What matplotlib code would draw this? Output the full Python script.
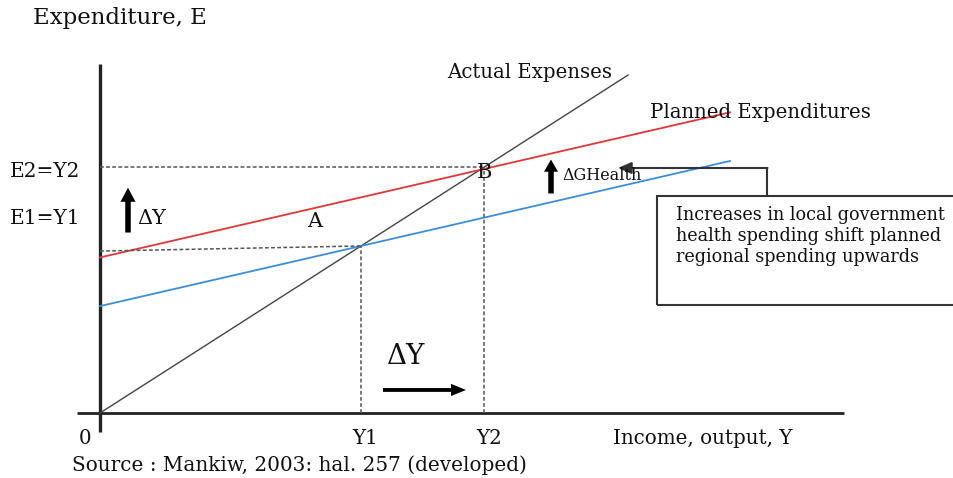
"""Keynesian cross: local government health spending shifts planned expenditure up."""
import matplotlib

matplotlib.use("Agg")
import matplotlib.pyplot as plt
from matplotlib.patches import Rectangle, FancyArrow

plt.rcParams["font.family"] = ["DejaVu Serif"]

W, H = 954, 478
INK, RED, BLUE, GREY = "#222222", "#e0383a", "#3d8ed6", "#555555"

# model (units: Y along x, E along y; actual expenses is E = Y)
MPC = 0.36                 # slope of planned expenditure
A_OLD, A_NEW = 16.7, 24.3  # autonomous spending before / after ΔG health
Y1, Y2 = 26.1, 38.4        # equilibria
Y_ACTUAL_END = 52.8
Y_PLAN_END = 63.0
E1_LEFT = 25.3             # left end of the E1 guide (drawn slightly off level)

# pixel frame of the picture: origin at (100, 413), 10 px per Y unit, 6.4 px per E unit
OX, OY, SX, SY = 100, 413, 10.0, 6.4


def px(x, y):
    """pixel position -> axes fraction (for labels only)"""
    return x / W, 1 - y / H


fig = plt.figure(figsize=(W / 100, H / 100), dpi=100)
ax = fig.add_axes([0, 0, 1, 1])
ax.set_xlim(-OX / SX, (W - OX) / SX)
ax.set_ylim((OY - H) / SY, OY / SY)
ax.axis("off")

# axes of the diagram
ax.plot([0, 0], [-3.0, 54.5], color=INK, lw=2.4, solid_capstyle="butt")
ax.plot([-2.3, 74.4], [0, 0], color=INK, lw=2.0, solid_capstyle="butt")

# actual expenses (45 degree line)
ax.plot([0, Y_ACTUAL_END], [0, Y_ACTUAL_END], color="#444444", lw=1.0)
# planned expenditure before / after
ax.plot([0, Y_PLAN_END], [A_NEW, A_NEW + MPC * Y_PLAN_END], color=RED, lw=1.3)
ax.plot([0, Y_PLAN_END], [A_OLD, A_OLD + MPC * Y_PLAN_END], color=BLUE, lw=1.3)

# guides
dash = dict(color=GREY, lw=1.1, ls=(0, (2.5, 1.5)))
ax.plot([0, Y1], [E1_LEFT, Y1], **dash)
ax.plot([0, Y2], [Y2, Y2], **dash)
ax.plot([Y1, Y1], [0, Y1], **dash)
ax.plot([Y2, Y2], [0, Y2], **dash)

# thick arrows
ax.add_patch(FancyArrow(2.8, 28.2, 0, 7.0, width=0.55, head_width=1.5, head_length=2.2,
                        length_includes_head=True, color="black", lw=0))
ax.add_patch(FancyArrow(45.1, 34.3, 0, 5.3, width=0.55, head_width=1.4, head_length=1.9,
                        length_includes_head=True, color="black", lw=0))
ax.add_patch(FancyArrow(28.3, 3.6, 8.3, 0, width=0.6, head_width=1.9, head_length=1.5,
                        length_includes_head=True, color="black", lw=0))

# callout box + connector
ax.add_patch(Rectangle((55.7, (OY - 305) / SY), 35, (305 - 196) / SY,
                       fill=False, ec="#333333", lw=1.5, clip_on=True))
ax.plot([66.7, 66.7], [(OY - 196) / SY, (OY - 168) / SY], color="#333333", lw=1.5)
ax.annotate("", xy=(51.8, (OY - 168) / SY), xytext=(66.75, (OY - 168) / SY),
            arrowprops=dict(arrowstyle="-|>,head_length=0.8,head_width=0.35",
                            color="#333333", lw=1.5, shrinkA=0, shrinkB=0))


# labels
def lab(x, y, s, size=14.3, ha="left", **kw):
    ax.text(*px(x, y), s, transform=ax.transAxes, fontsize=size, ha=ha,
            va="center", color="#111111", **kw)


lab(33, 18, "Expenditure, E", 16.5)
lab(447, 73, "Actual Expenses", 14.2)
lab(650, 112, "Planned Expenditures", 14.2)
lab(10, 172, "E2=Y2", 14.5)
lab(10, 218, "E1=Y1", 14.5)
lab(137, 218, "ΔY", 15)
lab(307, 222, "A", 15)
lab(485, 173, "B", 15, ha="center")
lab(562, 175, "ΔGHealth", 11.5)
lab(387, 357, "ΔY", 20)
lab(85, 438, "0", 14.3, ha="center")
lab(365, 438, "Y1", 14.3, ha="center")
lab(489, 438, "Y2", 14.3, ha="center")
lab(613, 438, "Income, output, Y", 14.3)
lab(72, 465, "Source : Mankiw, 2003: hal. 257 (developed)", 14.4)
lab(676, 215, "Increases in local government", 12.7)
lab(676, 236, "health spending shift planned", 12.7)
lab(676, 257, "regional spending upwards", 12.7)

fig.savefig("out.png", dpi=100)
plt.close(fig)
